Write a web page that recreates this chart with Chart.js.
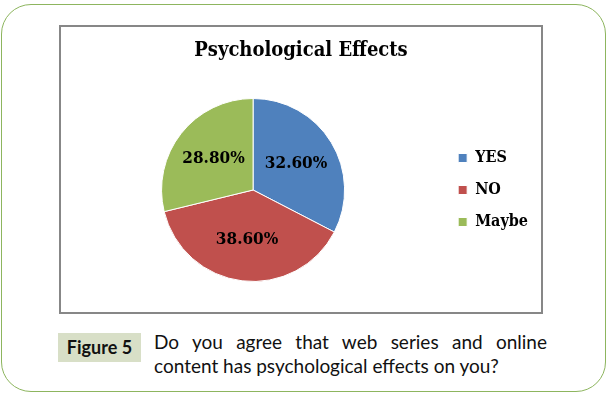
<!DOCTYPE html>
<html>
<head>
<meta charset="utf-8">
<script src="https://cdn.jsdelivr.net/npm/chart.js@4"></script>
<style>
  html, body { margin: 0; padding: 0; background: #fff; width: 613px; height: 396px; overflow: hidden; }
  #frame { position: absolute; left: 1px; top: 4px; width: 605px; height: 388px; box-sizing: border-box;
           border: 1.5px solid #8db55e; border-radius: 30px; }
  #box { position: absolute; left: 59px; top: 25px; width: 484px; height: 289px; box-sizing: border-box;
         border: 2px solid #878787; }
  #c { position: absolute; left: 61px; top: 27px; }
  #fig { position: absolute; left: 58px; top: 333px; width: 83px; height: 29px; background: #d8dfc7;
         font-family: Lato, sans-serif; font-weight: bold; font-size: 18px; color: #111;
         line-height: 29px; text-align: center; }
  .cap { position: absolute; left: 154px; width: 393px; font-family: Lato, sans-serif; font-size: 19px;
         color: #111; white-space: nowrap; }
  #l1 { top: 330px; text-align: justify; text-align-last: justify; white-space: normal; }
  #l2 { top: 354px; }
</style>
</head>
<body>
<div id="frame"></div>
<div id="box"></div>
<canvas id="c" width="480" height="285"></canvas>
<div id="fig">Figure 5</div>
<div class="cap" id="l1">Do you agree that web series and online</div>
<div class="cap" id="l2">content has psychological effects on you?</div>
<script>
const titleText = 'Psychological Effects';
const categories = ['YES', 'NO', 'Maybe'];
const values = [32.6, 38.6, 28.8];
const sliceColors = ['#4f81bd', '#c0504d', '#9bbb59'];

const serif = '"DejaVu Serif Condensed", "DejaVu Serif", serif';

const sliceLabels = {
  id: 'sliceLabels',
  afterDatasetsDraw(chart) {
    const ctx = chart.ctx;
    const meta = chart.getDatasetMeta(0);
    ctx.save();
    ctx.font = 'bold 17px ' + serif;
    ctx.fillStyle = '#000';
    ctx.textAlign = 'center';
    ctx.textBaseline = 'middle';
    meta.data.forEach((arc, i) => {
      const p = arc.getProps(['x', 'y', 'startAngle', 'endAngle', 'outerRadius'], true);
      const mid = (p.startAngle + p.endAngle) / 2;
      const r = p.outerRadius * 0.55;
      const v = chart.data.datasets[0].data[i];
      ctx.fillText(v.toFixed(2) + '%', p.x + Math.cos(mid) * r, p.y + Math.sin(mid) * r);
    });
    ctx.restore();
  }
};

new Chart(document.getElementById('c'), {
  type: 'pie',
  data: {
    labels: categories,
    datasets: [{
      data: values,
      backgroundColor: sliceColors,
      borderColor: '#ffffff',
      borderWidth: 1
    }]
  },
  options: {
    responsive: false,
    animation: false,
    layout: { padding: { left: 3, right: 3, top: 0, bottom: 30 } },
    plugins: {
      title: {
        display: true,
        text: titleText,
        color: '#000',
        font: { family: serif, size: 20, weight: 'bold' },
        padding: { top: 12, bottom: 35 }
      },
      legend: {
        position: 'right',
        fullSize: false,
        labels: {
          boxWidth: 9,
          boxHeight: 9,
          padding: 16,
          color: '#000',
          font: { family: serif, size: 16, weight: 'bold' }
        }
      },
      tooltip: { enabled: false }
    }
  },
  plugins: [sliceLabels]
});
</script>
</body>
</html>
